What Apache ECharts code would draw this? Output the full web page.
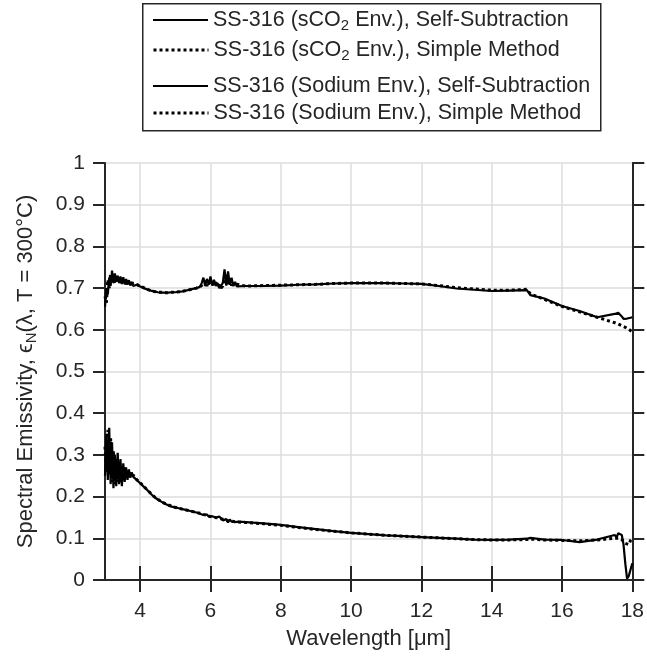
<!DOCTYPE html>
<html>
<head>
<meta charset="utf-8">
<script src="https://cdn.jsdelivr.net/npm/echarts@6/dist/echarts.min.js"></script>
<style>
  html, body { margin: 0; padding: 0; background: #fff; }
  #chart { width: 647px; height: 662px; }
</style>
</head>
<body>
<div id="chart"></div>
<script>
// wavelength grid, um
const wavelength = [
  3.00, 3.04, 3.08, 3.12, 3.16, 3.20, 3.24, 3.28, 3.32, 3.36, 3.40, 3.44, 3.48, 3.52, 3.56, 3.60, 3.64, 3.68, 3.72, 3.76, 3.80,
  3.9, 4.0, 4.1, 4.2, 4.3, 4.4, 4.5, 4.6, 4.7, 4.8, 4.9, 5.0, 5.1, 5.2, 5.3, 5.4, 5.5, 5.6, 5.7,
  5.75, 5.80, 5.85, 5.90, 5.95, 6.00, 6.05, 6.10, 6.15, 6.20, 6.25, 6.30, 6.35, 6.40, 6.45, 6.50, 6.55, 6.60, 6.65, 6.70, 6.75, 6.80,
  7.0, 7.5, 8.0, 8.5, 9.0, 9.5, 10.0, 10.5, 11.0, 11.5, 12.0, 12.5, 13.0, 13.5, 14.0, 14.5, 15.0, 15.1, 15.5, 16.0, 16.5, 17.0, 17.5,
  17.55, 17.60, 17.65, 17.70, 17.75, 17.80, 17.85, 17.90, 17.95, 18.00
];

const sco2Self = [
  0.655, 0.700, 0.685, 0.725, 0.705, 0.742, 0.712, 0.735, 0.715, 0.730, 0.712, 0.728, 0.710, 0.726, 0.709, 0.722, 0.708, 0.719, 0.706, 0.715, 0.705,
  0.708, 0.704, 0.700, 0.697, 0.694, 0.692, 0.690, 0.689, 0.689, 0.689, 0.690, 0.690, 0.691, 0.692, 0.694, 0.696, 0.698, 0.700, 0.703,
  0.712, 0.725, 0.705, 0.722, 0.708, 0.728, 0.706, 0.720, 0.705, 0.712, 0.700, 0.698, 0.712, 0.745, 0.706, 0.740, 0.708, 0.725, 0.705, 0.715, 0.704, 0.708,
  0.705, 0.705, 0.706, 0.708, 0.709, 0.711, 0.712, 0.712, 0.712, 0.711, 0.710, 0.705, 0.699, 0.696, 0.693, 0.694, 0.695, 0.683, 0.675, 0.657, 0.645, 0.630, 0.638,
  0.640, 0.641, 0.638, 0.632, 0.626, 0.624, 0.627, 0.630, 0.629, 0.630
];

const sco2Simple = [
  0.680, 0.665, 0.720, 0.700, 0.735, 0.715, 0.730, 0.710, 0.728, 0.714, 0.726, 0.710, 0.724, 0.711, 0.720, 0.709, 0.718, 0.707, 0.714, 0.706, 0.712,
  0.709, 0.705, 0.701, 0.697, 0.694, 0.692, 0.690, 0.690, 0.689, 0.689, 0.690, 0.690, 0.691, 0.692, 0.694, 0.696, 0.698, 0.700, 0.703,
  0.706, 0.710, 0.718, 0.705, 0.716, 0.707, 0.718, 0.706, 0.714, 0.703, 0.708, 0.700, 0.705, 0.720, 0.735, 0.707, 0.725, 0.706, 0.714, 0.704, 0.709, 0.705,
  0.705, 0.706, 0.707, 0.708, 0.709, 0.711, 0.712, 0.712, 0.712, 0.711, 0.710, 0.706, 0.701, 0.698, 0.695, 0.695, 0.697, 0.686, 0.673, 0.656, 0.643, 0.630, 0.617,
  0.616, 0.614, 0.612, 0.610, 0.608, 0.606, 0.603, 0.601, 0.598, 0.595
];

const sodiumSelf = [
  0.250, 0.350, 0.240, 0.365, 0.230, 0.330, 0.220, 0.300, 0.225, 0.305, 0.230, 0.290, 0.225, 0.280, 0.235, 0.270, 0.240, 0.265, 0.245, 0.258, 0.248,
  0.240, 0.232, 0.224, 0.216, 0.207, 0.199, 0.193, 0.188, 0.183, 0.179, 0.176, 0.174, 0.172, 0.170, 0.168, 0.166, 0.164, 0.162, 0.159,
  0.158, 0.156, 0.155, 0.157, 0.152, 0.151, 0.153, 0.149, 0.150, 0.148, 0.152, 0.149, 0.143, 0.140, 0.146, 0.138, 0.145, 0.140, 0.142, 0.139, 0.141, 0.140,
  0.139, 0.136, 0.132, 0.127, 0.122, 0.117, 0.113, 0.110, 0.107, 0.105, 0.103, 0.101, 0.099, 0.097, 0.096, 0.097, 0.099, 0.101, 0.097, 0.096, 0.091, 0.097, 0.108,
  0.102, 0.112, 0.116, 0.108, 0.085, 0.040, 0.003, 0.010, 0.025, 0.040
];

const sodiumSimple = [
  0.320, 0.260, 0.360, 0.250, 0.340, 0.235, 0.310, 0.230, 0.290, 0.235, 0.285, 0.235, 0.275, 0.240, 0.270, 0.245, 0.262, 0.248, 0.257, 0.247, 0.252,
  0.241, 0.233, 0.225, 0.216, 0.208, 0.200, 0.194, 0.188, 0.184, 0.180, 0.177, 0.174, 0.172, 0.170, 0.168, 0.166, 0.164, 0.162, 0.160,
  0.157, 0.157, 0.154, 0.155, 0.153, 0.152, 0.151, 0.150, 0.149, 0.149, 0.147, 0.147, 0.145, 0.144, 0.143, 0.142, 0.142, 0.141, 0.141, 0.140, 0.140, 0.139,
  0.138, 0.135, 0.131, 0.126, 0.121, 0.117, 0.113, 0.110, 0.107, 0.105, 0.103, 0.101, 0.099, 0.097, 0.096, 0.096, 0.097, 0.098, 0.096, 0.095, 0.094, 0.096, 0.100,
  0.100, 0.100, 0.098, 0.097, 0.095, 0.088, 0.090, 0.085, 0.095, 0.100
];

const xTicks = [4, 6, 8, 10, 12, 14, 16, 18];

const names = [
  'SS-316 (sCO2 Env.), Self-Subtraction',
  'SS-316 (sCO2 Env.), Simple Method',
  'SS-316 (Sodium Env.), Self-Subtraction',
  'SS-316 (Sodium Env.), Simple Method'
];

const FONT = 'Liberation Sans, Arial, sans-serif';
const INK = '#262626';
const FS = 21;   // tick labels
const FL = 22;   // axis names
const FG = 21.5; // legend

function pairs(ys) {
  return wavelength.map((w, i) => [w, ys[i]]);
}

// subscript "2" in CO2
function legendText(name) {
  if (name.indexOf('CO2') >= 0) {
    const parts = name.split('CO2');
    return '{a|' + parts[0] + 'CO}{s|2}{a|' + parts[1] + '}';
  }
  return '{a|' + name + '}';
}

function richText(size) {
  return {
    a: { fontSize: size, fontFamily: FONT, color: INK, lineHeight: 26 },
    s: { fontSize: 15, fontFamily: FONT, color: INK, lineHeight: 8, verticalAlign: 'bottom' }
  };
}

const solidLine = { color: '#000', width: 2.2, type: 'solid' };
const dotLine = { color: '#000', width: 3, type: [3, 3], cap: 'butt' };

const legendRows = [22, 52, 88, 115];

const chart = echarts.init(document.getElementById('chart'), null, { renderer: 'canvas' });

const axisLine = { show: true, lineStyle: { color: INK, width: 2 } };

const option = {
  animation: false,
  backgroundColor: '#fff',
  textStyle: { fontFamily: FONT },
  grid: { left: 105, right: 12, top: 163, bottom: 82, containLabel: false },
  graphic: [{
    type: 'rect',
    left: 142, top: 3,
    shape: { width: 458, height: 127 },
    style: { fill: '#fff', stroke: INK, lineWidth: 1.5 },
    z: -1
  }],
  legend: names.map((n, i) => ({
    data: [n],
    left: 152,
    top: legendRows[i] - 13,
    itemWidth: 55,
    itemHeight: 14,
    itemGap: 0,
    padding: 0,
    formatter: legendText,
    textStyle: { rich: richText(FG) },
    itemStyle: { opacity: 0 },
    lineStyle: i % 2 === 0 ? { width: 2, type: 'solid', color: '#000' } : { width: 3, type: [3, 3], cap: 'butt', color: '#000' },
    selectedMode: false
  })),
  xAxis: [{
    type: 'value',
    min: 3, max: 18,
    axisLine: axisLine,
    axisTick: { show: true, length: 12, inside: false, customValues: xTicks, lineStyle: { color: INK, width: 2 } },
    axisLabel: { customValues: xTicks, fontSize: FS, fontFamily: FONT, color: INK, margin: 21 },
    splitLine: { show: true, lineStyle: { color: '#dcdcdc', width: 1.5 } },
    name: 'Wavelength [μm]',
    nameLocation: 'middle',
    nameGap: 48,
    nameTextStyle: { fontSize: FL, fontFamily: FONT, color: INK }
  }, {
    type: 'value',
    position: 'top',
    min: 3, max: 18,
    axisLine: axisLine,
    axisTick: { show: true, length: 14, inside: false, customValues: xTicks, lineStyle: { color: INK, width: 2 } },
    axisLabel: { show: false },
    splitLine: { show: false }
  }],
  yAxis: [{
    type: 'value',
    min: 0, max: 1, interval: 0.1,
    axisLine: axisLine,
    axisTick: { show: true, length: 12, inside: false, lineStyle: { color: INK, width: 2 } },
    axisLabel: { fontSize: FS, fontFamily: FONT, color: INK, margin: 20 },
    splitLine: { show: true, lineStyle: { color: '#dcdcdc', width: 1.5 } },
    name: '{a|Spectral Emissivity, ϵ}{s|N}{a|(λ, T = 300°C)}',
    nameLocation: 'middle',
    nameGap: 66,
    nameTextStyle: { rich: richText(FL) }
  }, {
    type: 'value',
    position: 'right',
    min: 0, max: 1, interval: 0.1,
    axisLine: axisLine,
    axisTick: { show: true, length: 12, inside: false, lineStyle: { color: INK, width: 2 } },
    axisLabel: { show: false },
    splitLine: { show: false }
  }],
  series: [
    { name: names[1], type: 'line', data: pairs(sco2Simple), symbol: 'none', lineStyle: dotLine, itemStyle: { color: '#000' }, z: 2 },
    { name: names[0], type: 'line', data: pairs(sco2Self), symbol: 'none', lineStyle: solidLine, itemStyle: { color: '#000' }, z: 3 },
    { name: names[3], type: 'line', data: pairs(sodiumSimple), symbol: 'none', lineStyle: dotLine, itemStyle: { color: '#000' }, z: 2 },
    { name: names[2], type: 'line', data: pairs(sodiumSelf), symbol: 'none', lineStyle: solidLine, itemStyle: { color: '#000' }, z: 3 }
  ]
};

chart.setOption(option);
</script>
</body>
</html>
